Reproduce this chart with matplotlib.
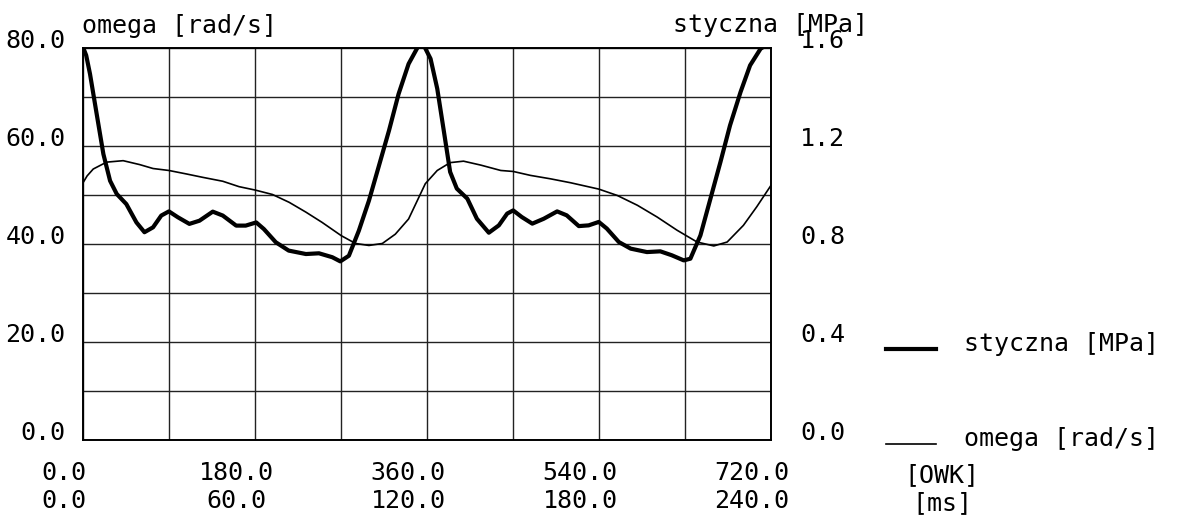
import numpy as np
import matplotlib
matplotlib.use('Agg')
import matplotlib.pyplot as plt
from matplotlib.transforms import ScaledTranslation

plt.rcParams['font.family'] = ['DejaVu Sans Mono']
plt.rcParams['font.size'] = 18

# omega [rad/s] - cienka linia, lewa os
kat_omega = [0, 4, 10.4, 24.3, 41.7, 59, 73, 89.6, 107.7, 125, 146, 163, 180, 198,
             215.5, 233, 250, 270, 285, 299, 313, 326.6, 340.5, 358, 370.5, 384,
             398, 416, 437, 450, 468, 489, 510, 539.6, 559, 580, 600.7, 621.6,
             642.5, 660, 674, 691, 705, 720]
omega = [52.6, 53.9, 55.3, 56.7, 57.0, 56.2, 55.4, 55.0, 54.3, 53.6, 52.8, 51.7, 51.0, 50.1,
         48.5, 46.5, 44.4, 41.7, 40.1, 39.7, 40.1, 42.0, 45.1, 52.3, 55.0, 56.6,
         56.9, 56.1, 55.0, 54.8, 54.0, 53.3, 52.5, 51.2, 49.9, 47.9, 45.5, 42.8,
         40.4, 39.6, 40.4, 43.8, 47.6, 52.0]

# styczna [MPa] - gruba linia, prawa os
kat_styczna = [0, 3, 7, 14, 21, 28, 35, 45, 55.6, 64, 73, 81.6, 89.6, 99, 111, 121.6,
               135.5, 146, 160, 170, 181, 189, 201.5, 215, 233, 246.7, 260.6, 269,
               278, 288.4, 299, 309, 320, 330, 340.5, 351, 356.5, 363.5, 370.5, 377,
               384, 391, 402, 412, 424.5, 435, 443.7, 450, 459, 470, 482, 496, 506,
               518.7, 529, 539.6, 548, 560.6, 573, 590, 604, 616, 628.6, 635.5, 646,
               656.5, 667, 677, 688, 698, 709, 716, 720]
styczna = [1.60, 1.57, 1.494, 1.33, 1.167, 1.058, 1.004, 0.963, 0.888, 0.848, 0.868,
           0.916, 0.933, 0.909, 0.882, 0.895, 0.932, 0.916, 0.875, 0.875, 0.888,
           0.861, 0.807, 0.773, 0.759, 0.762, 0.746, 0.729, 0.752, 0.854, 0.977,
           1.113, 1.263, 1.412, 1.535, 1.61, 1.61, 1.556, 1.434, 1.271, 1.094,
           1.026, 0.985, 0.903, 0.846, 0.876, 0.924, 0.937, 0.910, 0.883, 0.903,
           0.933, 0.917, 0.873, 0.876, 0.890, 0.863, 0.808, 0.781, 0.767, 0.770,
           0.754, 0.733, 0.740, 0.835, 0.985, 1.135, 1.284, 1.420, 1.529, 1.597,
           1.614, 1.604]

x_owk = [0, 180, 360, 540, 720]
x_ms = [0.0, 60.0, 120.0, 180.0, 240.0]
y_omega_ticks = [0, 20, 40, 60, 80]
y_styczna_ticks = [0.0, 0.4, 0.8, 1.2, 1.6]

fig = plt.figure(figsize=(11.92, 5.22), dpi=100)
ax = fig.add_axes([0.0699, 0.1571, 0.577, 0.7510])
ax2 = ax.twinx()

l_om, = ax.plot(kat_omega, omega, color='black', lw=1.2, label='omega [rad/s]')
l_st, = ax2.plot(kat_styczna, styczna, color='black', lw=3.0,
                 solid_joinstyle='round', label='styczna [MPa]')

ax.set_xlim(0, 720)
ax.set_ylim(0, 80)
ax2.set_ylim(0, 1.6)

ax.set_xticks(x_owk)
ax.set_xticks(np.arange(90, 720, 180), minor=True)
ax.set_xticklabels(['%.1f\n%.1f' % (a, b) for a, b in zip(x_owk, x_ms)],
                   ha='center', multialignment='center')
ax.set_yticks(y_omega_ticks)
ax.set_yticks([10, 30, 50, 70], minor=True)
ax.set_yticklabels(['%.1f' % v for v in y_omega_ticks])
ax2.set_yticks(y_styczna_ticks)
ax2.set_yticklabels(['%.1f' % v for v in y_styczna_ticks])

ax.grid(True, which='both', color='#222222', lw=1.0)
ax.tick_params(which='both', length=0)
ax.tick_params(axis='y', pad=13)
ax.tick_params(axis='x', pad=15)
ax2.tick_params(length=0, pad=21)

for lab in ax.get_yticklabels() + ax2.get_yticklabels():
    lab.set_verticalalignment('baseline')
przes = ScaledTranslation(-0.19, 0, fig.dpi_scale_trans)
for lab in ax.get_xticklabels():
    lab.set_transform(lab.get_transform() + przes)

for a in (ax, ax2):
    for s in a.spines.values():
        s.set_linewidth(1.2)

fig.text(82 / 1192, 1 - 33 / 522, 'omega [rad/s]', ha='left', va='baseline')
fig.text(673 / 1192, 1 - 32 / 522, 'styczna [MPa]', ha='left', va='baseline')
fig.text(942 / 1192, 1 - 463 / 522, '[OWK]\n[ms]', ha='center', va='top',
         multialignment='center')

leg = fig.legend(handles=[l_st, l_om], loc='upper left',
                 bbox_to_anchor=(886 / 1192, 1 - 332 / 522), frameon=False,
                 handlelength=2.0, handletextpad=1.1, labelspacing=2.84,
                 borderpad=0, borderaxespad=0)
# linie legendy na wysokosci linii bazowej tekstu, jak w oryginale
w_dol = ScaledTranslation(0, -0.07, fig.dpi_scale_trans)
for ln in leg.get_lines():
    ln.set_transform(ln.get_transform() + w_dol)

fig.savefig('out.png', dpi=100)
